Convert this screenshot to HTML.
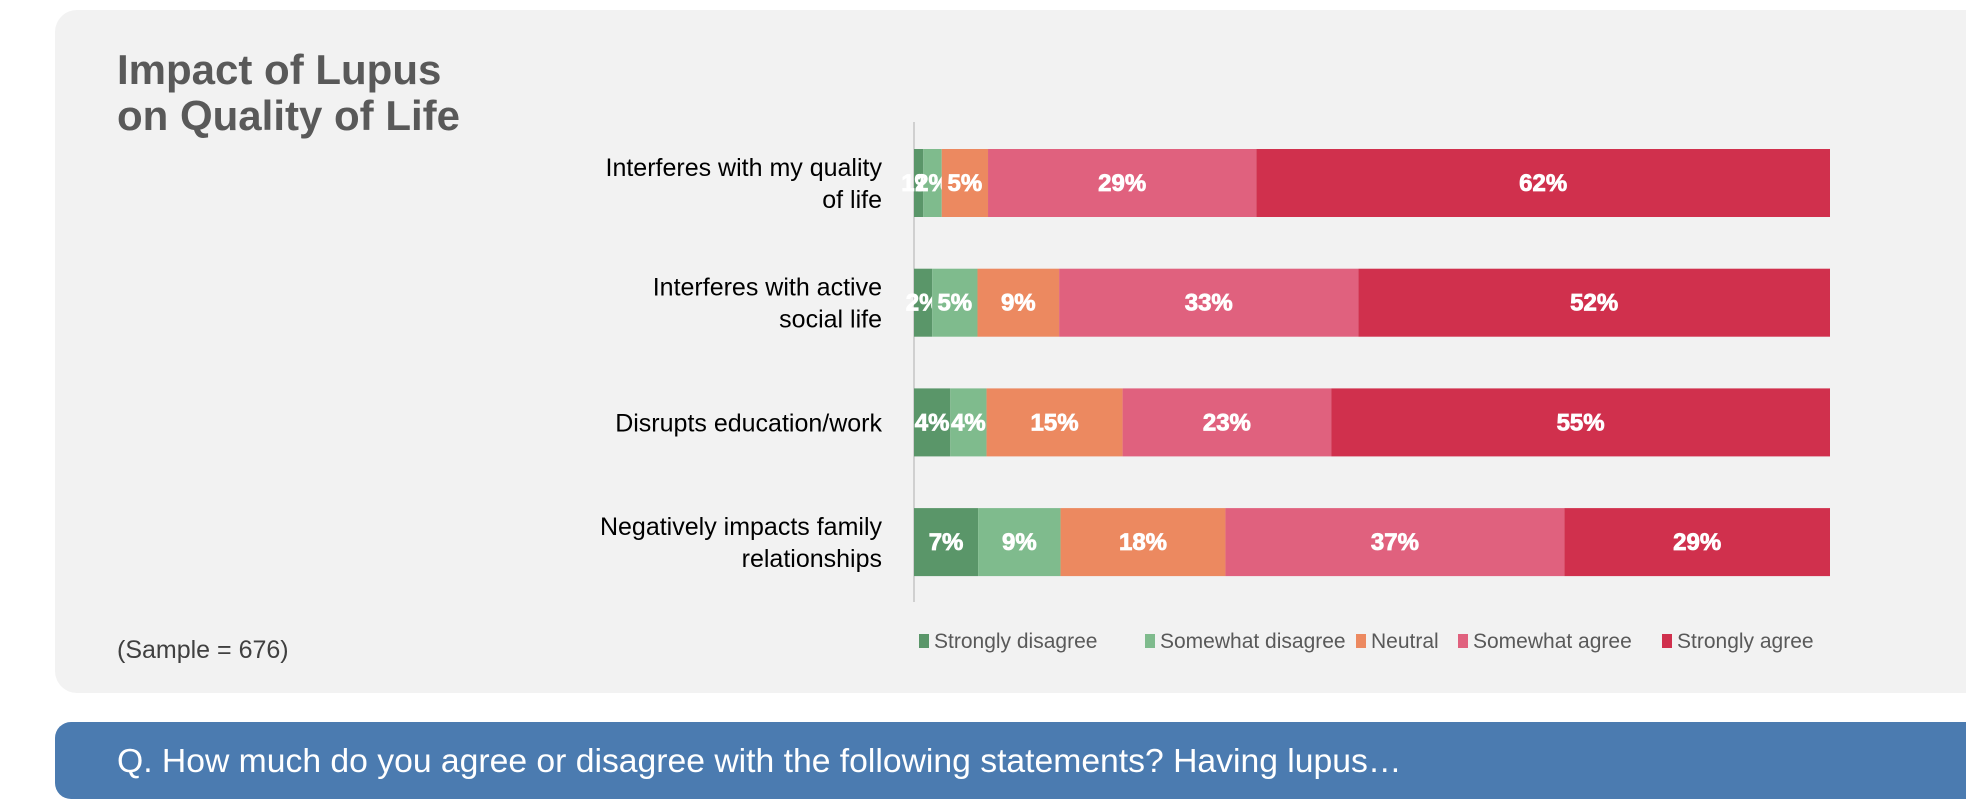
<!DOCTYPE html>
<html><head><meta charset="utf-8"><style>
body{margin:0;width:1966px;height:810px;background:#fff;font-family:"Liberation Sans",Arial,sans-serif;overflow:hidden;position:relative}
.panel{position:absolute;left:55px;top:10px;width:1960px;height:683px;background:#f2f2f2;border-radius:22px}
.qbar{position:absolute;left:55px;top:722px;width:1960px;height:77px;background:#4b7bb0;border-radius:16px}
</style></head><body>
<div class="panel"></div>
<div class="qbar"></div>
<svg width="1966" height="810" style="position:absolute;left:0;top:0">
<text x="117" y="84" font-size="42" font-weight="bold" fill="#595959"><tspan x="117">Impact of Lupus</tspan><tspan x="117" dy="46">on Quality of Life</tspan></text>
<text x="117" y="658" font-size="25" fill="#404040">(Sample = 676)</text>
<text x="117" y="772" font-size="33.7" fill="#ffffff">Q. How much do you agree or disagree with the following statements? Having lupus…</text>
<line x1="914" y1="122" x2="914" y2="602" stroke="#d0d0d0" stroke-width="2"/>
<g id="bars"></g><g id="cats"></g><g id="legend"></g>
</svg>
<script>
const categories=[["Interferes with my quality","of life"],["Interferes with active","social life"],["Disrupts education/work"],["Negatively impacts family","relationships"]];
const series=["Strongly disagree","Somewhat disagree","Neutral","Somewhat agree","Strongly agree"];
const stronglyDisagree=[1,2,4,7];
const somewhatDisagree=[2,5,4,9];
const neutral=[5,9,15,18];
const somewhatAgree=[29,33,23,37];
const stronglyAgree=[62,52,55,29];
const colors=["#5a9669","#7fbb8d","#ec8960","#e0617e","#d0304d"];
const vals=[stronglyDisagree,somewhatDisagree,neutral,somewhatAgree,stronglyAgree];
const NS="http://www.w3.org/2000/svg";
const x0=914,x1=1830,top0=149,step=119.7,bh=68;
const bars=document.getElementById('bars'),cats=document.getElementById('cats'),leg=document.getElementById('legend');
function mk(t,a){const e=document.createElementNS(NS,t);for(const k in a)e.setAttribute(k,a[k]);return e;}
categories.forEach((c,i)=>{
 const y=top0+i*step;let tot=0;vals.forEach(v=>tot+=v[i]);
 let acc=0;
 vals.forEach((v,s)=>{
  const xa=x0+(x1-x0)*acc/tot,xb=x0+(x1-x0)*(acc+v[i])/tot;acc+=v[i];
  const r=mk('rect',{x:xa,y:y,width:xb-xa,height:bh,fill:colors[s]});
  
  
  bars.appendChild(r);
  const t=mk('text',{x:(xa+xb)/2,y:y+bh/2+8,'text-anchor':'middle','font-size':'24','font-weight':'bold',fill:'#fff',stroke:'#fff','stroke-width':'0.8'});
  t.textContent=v[i]+'%';
  
  
  bars.appendChild(t);
 });
 const cy=y+bh/2;
 const n=c.length;
 c.forEach((ln,j)=>{
  const t=mk('text',{x:882,y:cy+9+(j-(n-1)/2)*32,'text-anchor':'end','font-size':'25',fill:'#000'});
  t.textContent=ln;
  
  
  cats.appendChild(t);
 });
});
const lx=[919,1145,1356,1458,1662];
series.forEach((s,i)=>{
 const g=mk('g',{});
 
 
 g.appendChild(mk('rect',{x:lx[i],y:634,width:10,height:14,fill:colors[i]}));
 const t=mk('text',{x:lx[i]+15,y:648,'font-size':'21',fill:'#595959'});t.textContent=s;g.appendChild(t);
 leg.appendChild(g);
});
</script>
</body></html>
